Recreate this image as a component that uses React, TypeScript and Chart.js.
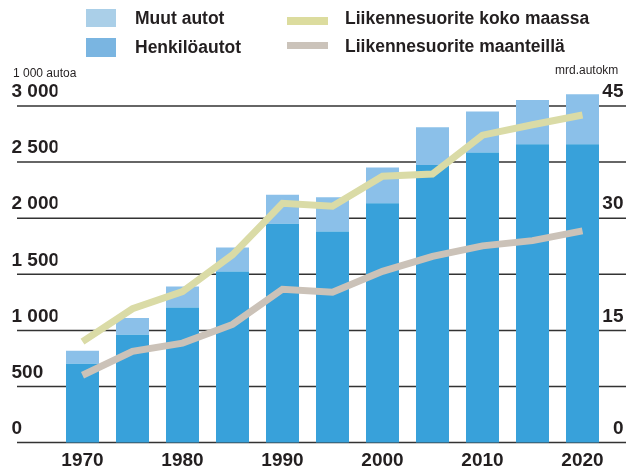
import React, { useEffect, useRef } from 'react';
import { Chart, registerables } from 'chart.js';

Chart.register(...registerables);

const years = ['1970', '1975', '1980', '1985', '1990', '1995', '2000', '2005', '2010', '2015', '2020'];
const xTickLabels = ['1970', '', '1980', '', '1990', '', '2000', '', '2010', '', '2020'];
const henkiloautot = [703, 961, 1205, 1525, 1950, 1882, 2133, 2475, 2585, 2660, 2660];
const muutAutot = [116, 149, 187, 214, 258, 305, 318, 335, 365, 393, 444];
const suoriteKokoMaassa = [13.5, 17.9, 20.2, 25.1, 32.0, 31.6, 35.6, 35.9, 41.1, 42.5, 43.8];
const suoriteMaanteilla = [9.0, 12.2, 13.3, 15.8, 20.5, 20.1, 22.9, 24.9, 26.3, 27.0, 28.3];
const leftTickLabels = ['0', '500', '1 000', '1 500', '2 000', '2 500', '3 000'];
const rightTickLabels = ['0', '15', '30', '45'];

const FONT = '"Liberation Sans", Arial, sans-serif';
const TEXT = '#231f20';

const gridPlugin = {
  id: 'extGrid',
  beforeDatasetsDraw(chart: any) {
    const y = chart.scales.y;
    const ctx = chart.ctx;
    ctx.save();
    ctx.strokeStyle = '#333333';
    ctx.lineWidth = 1.5;
    y.ticks.forEach((t: any) => {
      const py = y.getPixelForValue(t.value);
      ctx.beginPath();
      ctx.moveTo(17, py);
      ctx.lineTo(626, py);
      ctx.stroke();
    });
    ctx.restore();
  },
};

export default function App() {
  const ref = useRef<HTMLCanvasElement | null>(null);

  useEffect(() => {
    if (!ref.current) return;
    const tickFont = { family: FONT, size: 19, weight: 'bold' as const };
    const chart = new Chart(ref.current, {
      type: 'bar',
      data: {
        labels: years,
        datasets: [
          {
            type: 'line',
            label: 'Liikennesuorite koko maassa',
            data: suoriteKokoMaassa,
            yAxisID: 'y2',
            borderColor: '#dadba6',
            borderWidth: 7,
            pointRadius: 0,
            tension: 0,
            borderJoinStyle: 'miter',
            order: 0,
            clip: false,
          } as any,
          {
            type: 'line',
            label: 'Liikennesuorite maanteillä',
            data: suoriteMaanteilla,
            yAxisID: 'y2',
            borderColor: '#cbc2b8',
            borderWidth: 7,
            pointRadius: 0,
            tension: 0,
            borderJoinStyle: 'miter',
            order: 0,
            clip: false,
          } as any,
          {
            label: 'Henkilöautot',
            data: henkiloautot,
            backgroundColor: '#38a1da',
            barPercentage: 0.66,
            categoryPercentage: 1,
            yAxisID: 'y',
            order: 1,
            clip: false,
          } as any,
          {
            label: 'Muut autot',
            data: muutAutot,
            backgroundColor: '#8bc0e9',
            barPercentage: 0.66,
            categoryPercentage: 1,
            yAxisID: 'y',
            order: 1,
            clip: false,
          } as any,
        ],
      },
      options: {
        responsive: false,
        animation: false,
        layout: { padding: { left: 11.5, right: 2, top: 106, bottom: 0 } },
        plugins: { legend: { display: false }, tooltip: { enabled: false } },
        scales: {
          x: {
            stacked: true,
            grid: { display: false, drawTicks: false },
            border: { display: false },
            ticks: {
              autoSkip: false,
              maxRotation: 0,
              padding: 7,
              color: TEXT,
              font: tickFont,
              callback: (_v: any, i: number) => xTickLabels[i],
            },
            afterFit: (s: any) => { s.height = 26.5; },
          },
          y: {
            stacked: true,
            position: 'left',
            min: 0,
            max: 3000,
            grid: { display: false, drawTicks: false },
            border: { display: false },
            ticks: {
              stepSize: 500,
              crossAlign: 'far',
              labelOffset: -14,
              padding: 0,
              color: TEXT,
              font: tickFont,
              callback: (_v: any, i: number) => leftTickLabels[i],
            },
            afterFit: (s: any) => { s.width = 46; },
          },
          y2: {
            position: 'right',
            min: 0,
            max: 45,
            grid: { display: false, drawTicks: false },
            border: { display: false },
            ticks: {
              stepSize: 15,
              mirror: true,
              crossAlign: 'near',
              labelOffset: -14,
              padding: 16,
              color: TEXT,
              font: tickFont,
              callback: (_v: any, i: number) => rightTickLabels[i],
            },
            afterFit: (s: any) => { s.width = 16.5; },
          },
        },
      } as any,
      plugins: [gridPlugin],
    });
    return () => chart.destroy();
  }, []);

  const legendText: React.CSSProperties = {
    position: 'absolute',
    fontFamily: FONT,
    fontWeight: 'bold',
    fontSize: 17.5,
    lineHeight: '20px',
    color: TEXT,
    whiteSpace: 'nowrap',
  };
  const smallText: React.CSSProperties = {
    position: 'absolute',
    fontFamily: FONT,
    fontSize: 12,
    lineHeight: '14px',
    color: TEXT,
    whiteSpace: 'nowrap',
  };

  return (
    <div style={{ position: 'fixed', left: 0, top: 0, width: 626, height: 470, background: '#ffffff' }}>
      <canvas ref={ref} width={626} height={470} style={{ position: 'absolute', left: 0, top: 0 }} />
      <div style={{ position: 'absolute', left: 86, top: 9, width: 30, height: 18, background: '#aacfe8' }} />
      <div style={{ ...legendText, left: 135, top: 8 }}>Muut autot</div>
      <div style={{ position: 'absolute', left: 86, top: 38, width: 30, height: 19, background: '#7ab5e1' }} />
      <div style={{ ...legendText, left: 135, top: 37 }}>Henkilöautot</div>
      <div style={{ position: 'absolute', left: 287, top: 17, width: 41, height: 8, background: '#dcdc9e' }} />
      <div style={{ ...legendText, left: 345, top: 8 }}>Liikennesuorite koko maassa</div>
      <div style={{ position: 'absolute', left: 287, top: 42, width: 41, height: 7, background: '#cbc3ba' }} />
      <div style={{ ...legendText, left: 345, top: 36 }}>Liikennesuorite maanteillä</div>
      <div style={{ ...smallText, left: 13, top: 66 }}>1 000 autoa</div>
      <div style={{ ...smallText, left: 555, top: 63 }}>mrd.autokm</div>
    </div>
  );
}
